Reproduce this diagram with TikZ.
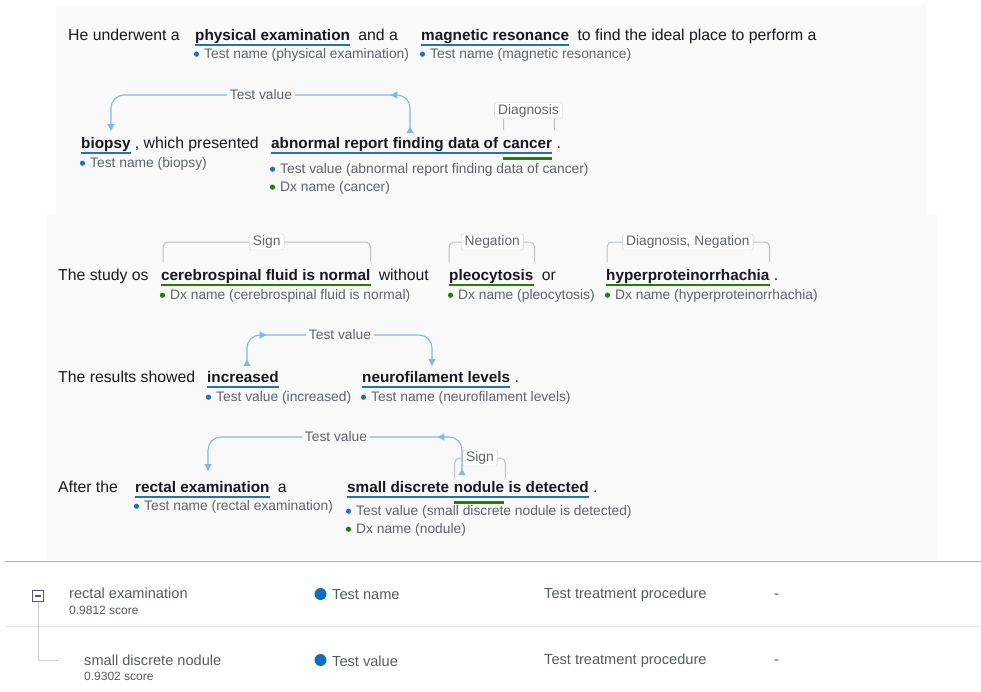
\documentclass[tikz,border=0pt]{standalone}
\usepackage{fontspec}
\setmainfont{Liberation Sans}
\usetikzlibrary{arrows.meta,decorations.markings,calc}

\definecolor{ink}{RGB}{22,25,31}
\definecolor{muted}{RGB}{95,100,108}
\definecolor{panel}{RGB}{249,249,249}
\definecolor{ublue}{RGB}{33,115,183}
\definecolor{ugreen}{RGB}{29,129,2}
\definecolor{relblue}{RGB}{125,187,227}
\definecolor{brkgray}{RGB}{186,195,200}
\definecolor{boxgray}{RGB}{200,208,212}
\definecolor{rulegray}{RGB}{168,180,180}
\definecolor{rowsep}{RGB}{226,229,232}
\definecolor{tblgray}{RGB}{84,91,100}
\definecolor{treegray}{RGB}{200,205,210}
\definecolor{dotblue}{RGB}{16,110,190}

\newcommand\annot[5]{% name, x, y, bullet colour, text
  \node[lab] (#1) at (#2,#3) {#5};
  \fill[#4] ([xshift=-7.5pt,yshift=0.8pt]#1.west) circle (2.6);
}

\tikzset{
  word/.style={inner sep=0pt, anchor=base west, text=ink, font=\fontsize{15.8}{18}\selectfont},
  ent/.style={word, font=\fontsize{15.3}{18}\selectfont\bfseries},
  lab/.style={anchor=west, inner sep=0pt, text=muted, font=\fontsize{13.8}{15}\selectfont},
  uline/.style={draw=ublue, line width=2.6pt},
  gline/.style={draw=ugreen, line width=2.6pt},
  rel/.style={draw=relblue, line width=1.1pt, rounded corners=13pt,
    {Triangle[reversed,length=6pt,width=7pt]}-{Triangle[length=7pt,width=7pt]}},
  midtip/.style={postaction={decorate, decoration={markings,
    mark=at position #1 with {\arrow{Triangle[length=7pt,width=7pt]}}}}},
  rellab/.style={fill=panel, inner xsep=3pt, inner ysep=1pt, text=muted,
    font=\fontsize{13.8}{15}\selectfont},
  brk/.style={draw=brkgray, line width=1pt, rounded corners=5pt},
  relbox/.style={draw=boxgray, fill=white, rounded corners=2pt, inner xsep=3.5pt,
    inner ysep=2pt, text height=9.5pt, text depth=2.5pt, text=muted,
    font=\fontsize{13.8}{15}\selectfont},
  tbl/.style={anchor=west, inner sep=0pt, text=tblgray, font=\fontsize{14.6}{17}\selectfont},
  score/.style={anchor=west, inner sep=0pt, text=tblgray, font=\fontsize{12}{14}\selectfont},
  dot/.style={circle, fill=dotblue, minimum size=12pt, inner sep=0pt},
}

\begin{document}
\begin{tikzpicture}[x=1pt,y=-1pt]
% canvas and the two shaded text panels
\fill[white] (0,0) rectangle (981,691);
\useasboundingbox (0,0) rectangle (981,691);
\fill[panel] (56,5) rectangle (926,215);
\fill[panel] (46,215) rectangle (938,560);

% ---------- sentence 1 ----------
\node[word] (r1a) at (68,40) {He underwent a};
\node[ent]  (pe)  at (195,40) {physical examination};
\node[word] (r1b) at ([xshift=8pt]pe.base east) {and a};
\node[ent]  (mr)  at (421,40) {magnetic resonance};
\node[word] (r1c) at ([xshift=8pt]mr.base east) {to find the ideal place to perform a};
\draw[uline] ([yshift=-5pt]pe.base west) -- ([yshift=-5pt]pe.base east);
\draw[uline] ([yshift=-5pt]mr.base west) -- ([yshift=-5pt]mr.base east);
\annot{pel}{204}{55}{ublue}{Test name (physical examination)}
\annot{mrl}{430}{55}{ublue}{Test name (magnetic resonance)}

% ---------- sentence 2 ----------
\node[ent]  (bx)  at (81,148) {biopsy};
\node[word] (r2a) at ([xshift=4pt]bx.base east) {, which presented};
\node[ent]  (ab)  at (271,148) {abnormal report finding data of\ \null};
\node[ent]  (ca)  at (ab.base east) {cancer};
\node[word] (r2b) at ([xshift=4pt]ca.base east) {.};
\draw[uline] ([yshift=-5pt]bx.base west) -- ([yshift=-5pt]bx.base east);
\draw[uline] ([yshift=-5pt]ab.base west) -- ([yshift=-5pt]ca.base east);
\draw[gline] ([yshift=-10.5pt]ca.base west) -- ([yshift=-10.5pt]ca.base east);
\annot{bxl}{90}{164}{ublue}{Test name (biopsy)}
\annot{abl}{280}{170}{ublue}{Test value (abnormal report finding data of cancer)}
\annot{cal}{280}{188}{ugreen}{Dx name (cancer)}

% relation: cancer -> Diagnosis
\coordinate (dg1c) at ($(ca.base west)!0.5!(ca.base east)+(1,-37.5)$);
\draw[brk] ($(ca.base west)+(1,-18)$) |- (dg1c) -| ($(ca.base east)+(2,-18)$);
\node[relbox] (dg1) at (dg1c) {Diagnosis};

% relation: test value -> test name
\draw[rel, midtip=52pt] ($(ab.base west)+(139,-15)$) -- ++(0,-38) -| ($(bx.base west)+(30,-17)$);
\node[rellab] (tv1) at (261,95) {Test value};

% ---------- sentence 3 ----------
\node[word] (r3a) at (58,280) {The study os};
\node[ent]  (csf) at (161,280) {cerebrospinal fluid is normal};
\node[word] (r3b) at ([xshift=8pt]csf.base east) {without};
\node[ent]  (ple) at (449,280) {pleocytosis};
\node[word] (r3c) at ([xshift=8pt]ple.base east) {or};
\node[ent]  (hyp) at (606,280) {hyperproteinorrhachia};
\node[word] (r3d) at ([xshift=4pt]hyp.base east) {.};
\draw[gline] ([yshift=-5pt]csf.base west) -- ([yshift=-5pt]csf.base east);
\draw[gline] ([yshift=-5pt]ple.base west) -- ([yshift=-5pt]ple.base east);
\draw[gline] ([yshift=-5pt]hyp.base west) -- ([yshift=-5pt]hyp.base east);
\annot{csfl}{170}{296}{ugreen}{Dx name (cerebrospinal fluid is normal)}
\annot{plel}{458}{296}{ugreen}{Dx name (pleocytosis)}
\annot{hypl}{615}{296}{ugreen}{Dx name (hyperproteinorrhachia)}

\coordinate (sg1c) at ($(csf.base west)!0.5!(csf.base east)+(1,-38)$);
\draw[brk] ($(csf.base west)+(2,-18)$) |- (sg1c) -| ($(csf.base east)+(0,-18)$);
\node[relbox] (sg1) at (sg1c) {Sign};

\coordinate (ng1c) at ($(ple.base west)!0.5!(ple.base east)+(1,-38)$);
\draw[brk] ($(ple.base west)+(0,-18)$) |- (ng1c) -| ($(ple.base east)+(1,-18)$);
\node[relbox] (ng1) at (ng1c) {Negation};

\coordinate (dn1c) at ($(hyp.base west)!0.5!(hyp.base east)+(0,-38)$);
\draw[brk] ($(hyp.base west)+(1,-18)$) |- (dn1c) -| ($(hyp.base east)+(0,-18)$);
\node[relbox] (dn1) at (dn1c) {Diagnosis, Negation};

% ---------- sentence 4 ----------
\node[word] (r4a) at (58,382) {The results showed};
\node[ent]  (inc) at (207,382) {increased};
\node[ent]  (neu) at (362,382) {neurofilament levels};
\node[word] (r4b) at ([xshift=4pt]neu.base east) {.};
\draw[uline] ([yshift=-5pt]inc.base west) -- ([yshift=-5pt]inc.base east);
\draw[uline] ([yshift=-5pt]neu.base west) -- ([yshift=-5pt]neu.base east);
\annot{incl}{216}{398}{ublue}{Test value (increased)}
\annot{neul}{371}{398}{ublue}{Test name (neurofilament levels)}

\draw[rel, midtip=45pt] ($(inc.base west)+(40,-16)$) -- ++(0,-31) -| ($(neu.base west)+(70,-16)$);
\node[rellab] (tv2) at (340,335) {Test value};

% ---------- sentence 5 ----------
\node[word] (r5a) at (58,492) {After the};
\node[ent]  (rec) at (135,492) {rectal examination};
\node[word] (r5b) at ([xshift=8pt]rec.base east) {a};
\node[ent]  (sd1) at (347,492) {small discrete\ \null};
\node[ent]  (nod) at (sd1.base east) {nodule};
\node[ent]  (sd2) at (nod.base east) {\null\ is detected};
\node[word] (r5c) at ([xshift=4pt]sd2.base east) {.};
\draw[uline] ([yshift=-5pt]rec.base west) -- ([yshift=-5pt]rec.base east);
\draw[uline] ([yshift=-5pt]sd1.base west) -- ([yshift=-5pt]sd2.base east);
\draw[gline] ([yshift=-10.5pt]nod.base west) -- ([yshift=-10.5pt]nod.base east);
\annot{recl}{144}{507}{ublue}{Test name (rectal examination)}
\annot{sdl}{356}{512}{ublue}{Test value (small discrete nodule is detected)}
\annot{nodl}{356}{530}{ugreen}{Dx name (nodule)}

\coordinate (sg2c) at ($(nod.base west)!0.5!(nod.base east)+(1,-34)$);
\draw[brk] ($(nod.base west)+(1,-14)$) |- (sg2c) -| ($(nod.base east)+(1,-14)$);
\node[relbox] (sg2) at (sg2c) {Sign};

\draw[rel, midtip=57pt] ($(sd1.base west)+(115,-17)$) -- ++(0,-38) -| ($(rec.base west)+(73,-21)$);
\node[rellab] (tv3) at (336,437) {Test value};

% ---------- entity table ----------
\draw[rulegray, line width=1pt] (5,561) -- (981,561);
\draw[rowsep, line width=1pt] (5,626) -- (981,626);

\node[draw=tblgray, line width=1.2pt, minimum size=11pt, inner sep=0pt] (tog) at (38,596) {};
\draw[tblgray, line width=1.2pt] ($(tog.center)+(-3,0)$) -- ($(tog.center)+(3,0)$);
\coordinate (leaf) at (58,660);
\draw[treegray, line width=1pt] (tog.south) |- (leaf);

\node[tbl]   (t1n) at (69,593) {rectal examination};
\node[score] (t1s) at (69,610) {0.9812 score};
\node[dot]   (d1)  at (320.5,594) {};
\node[tbl]   (t1t) at (332,595) {Test name};
\node[tbl]   (t1c) at (544,595) {Test treatment procedure};
\node[tbl]   (t1d) at (774,596) {-};

\node[tbl]   (t2n) at (84,660) {small discrete nodule};
\node[score] (t2s) at (84,676) {0.9302 score};
\node[dot]   (d2)  at (320.5,660) {};
\node[tbl]   (t2t) at (332,661) {Test value};
\node[tbl]   (t2c) at (544,661) {Test treatment procedure};
\node[tbl]   (t2d) at (774,662) {-};
\end{tikzpicture}
\end{document}
